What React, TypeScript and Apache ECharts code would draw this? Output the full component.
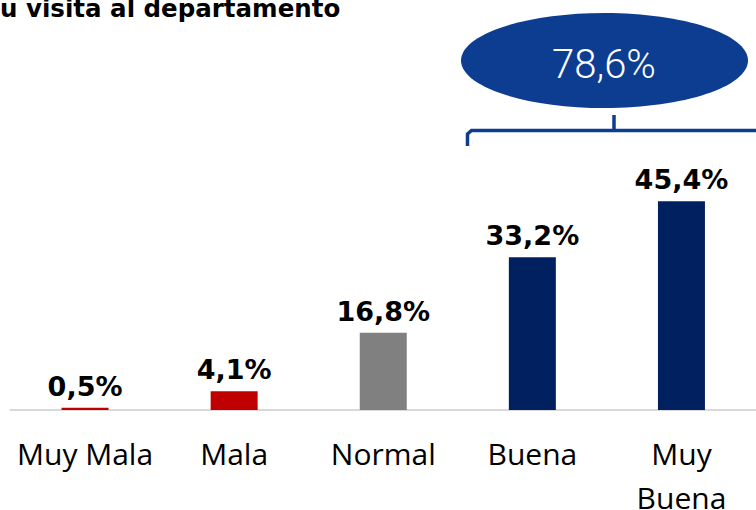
import React, { useEffect, useRef } from "react";
import * as echarts from "echarts";

const categories = ["Muy Mala", "Mala", "Normal", "Buena", "Muy\nBuena"];
const values = [0.5, 4.1, 16.8, 33.2, 45.4];
const barColors = ["#c00000", "#c00000", "#808080", "#002060", "#002060"];
const groupTotalLabel = "78,6%";
const titleText = "u visita al departamento";

const fmt = (v: number) => v.toFixed(1).replace(".", ",") + "%";

export default function App() {
  const ref = useRef<HTMLDivElement>(null);
  useEffect(() => {
    if (!ref.current) return;
    const chart = echarts.init(ref.current, undefined, { renderer: "svg" });
    chart.setOption({
      animation: false,
      grid: { left: 10.5, right: 0, top: 134, bottom: 100, containLabel: false, outerBoundsMode: "none" },
      xAxis: {
        type: "category",
        data: categories,
        axisLine: { lineStyle: { color: "#d9d9d9", width: 2 } },
        axisTick: { show: false },
        axisLabel: {
          interval: 0,
          color: "#000",
          fontFamily: "Open Sans",
          fontSize: 30,
          lineHeight: 44,
          margin: 21,
        },
      },
      yAxis: {
        type: "value",
        min: 0,
        max: 60,
        show: false,
        splitLine: { show: false },
      },
      series: [
        {
          type: "bar",
          barWidth: 47,
          data: values.map((v, i) => ({ value: v, itemStyle: { color: barColors[i] } })),
          label: {
            show: true,
            position: "top",
            distance: 8,
            color: "#000",
            fontFamily: "DejaVu Sans",
            fontWeight: "bold",
            fontSize: 27,
            formatter: (p: any) => fmt(p.value),
          },
        },
      ],
      graphic: [
        {
          type: "text",
          x: 0,
          y: 8,
          style: {
            text: titleText,
            fontFamily: "DejaVu Sans",
            fontWeight: "bold",
            fontSize: 24.5,
            fill: "#000",
            verticalAlign: "middle",
            align: "left",
          },
        },
        {
          type: "ellipse",
          shape: { cx: 604.5, cy: 60.5, rx: 143.5, ry: 47.5 },
          style: { fill: "#0d3d91" },
        },
        {
          type: "text",
          x: 604,
          y: 64,
          style: {
            text: groupTotalLabel,
            fontFamily: "Roboto",
            fontWeight: 300,
            fontSize: 40,
            fill: "#fff",
            align: "center",
            verticalAlign: "middle",
          },
        },
        {
          type: "polyline",
          shape: { points: [[467.5, 146], [467.5, 134], [471.5, 130.5], [760, 130.5]] },
          style: { stroke: "#0d3d91", lineWidth: 3.5, fill: "none" },
        },
        {
          type: "line",
          shape: { x1: 614, y1: 115, x2: 614, y2: 131 },
          style: { stroke: "#0d3d91", lineWidth: 3.5 },
        },
      ],
    });
    return () => chart.dispose();
  }, []);
  return <div ref={ref} style={{ width: 756, height: 510, position: "absolute", left: 0, top: 0 }} />;
}
